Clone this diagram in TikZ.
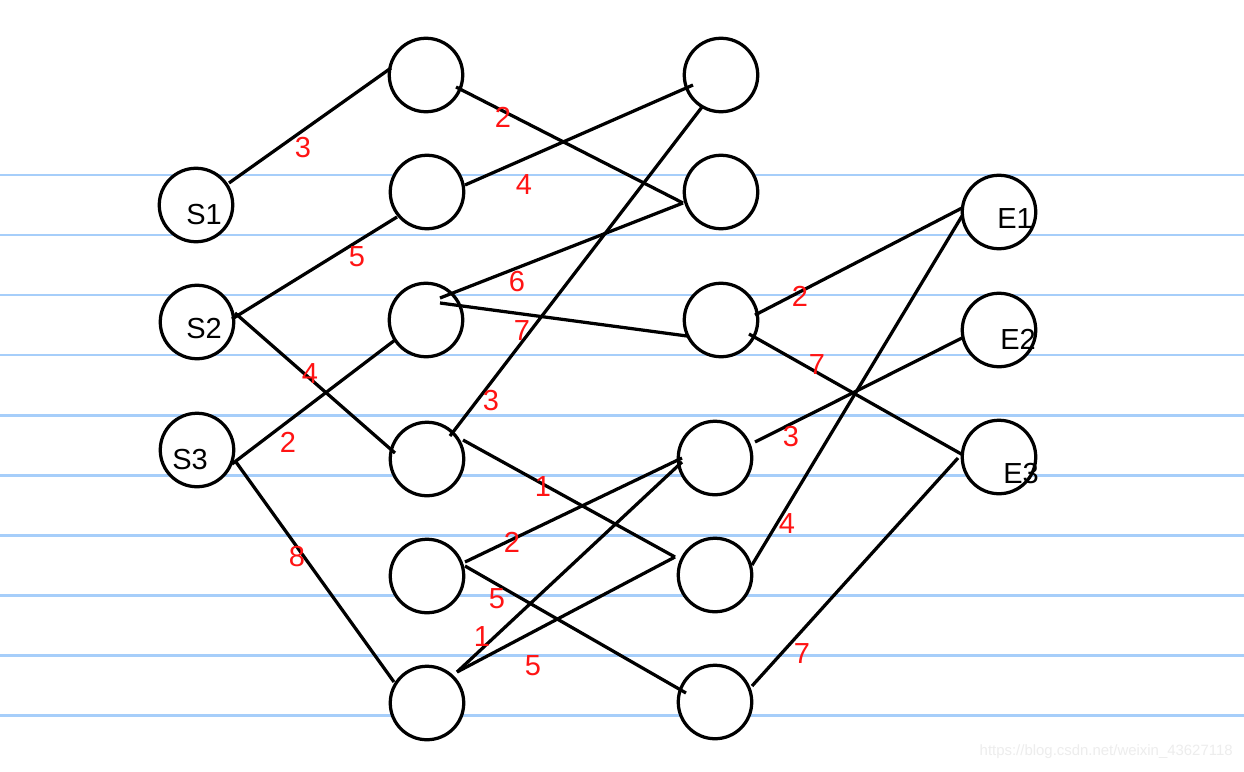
\documentclass[tikz,border=0pt]{standalone}
\usepackage{fontspec}
\setmainfont{Liberation Sans}
\usetikzlibrary{calc}
\definecolor{ruleblue}{RGB}{166,206,250}
\definecolor{wred}{RGB}{255,20,20}
\tikzset{
  rule/.style={draw=ruleblue,line width=1.7pt},
  vtx/.style={circle,draw=black,fill=white,line width=1.85pt,minimum size=1.47cm,inner sep=0pt},
  edge/.style={draw=black,line width=1.85pt},
  wt/.style={text=wred,font=\fontsize{16.5}{17}\selectfont,inner sep=0pt},
  nm/.style={text=black,font=\fontsize{16.5}{17}\selectfont,inner sep=0pt},
  wm/.style={text=black!7,font=\fontsize{8.5}{9}\selectfont,inner sep=0pt}
}
\begin{document}
\begin{tikzpicture}[x=0.02cm,y=-0.02cm]
\useasboundingbox (0,0) rectangle (1244,771);
\fill[white] (0,0) rectangle (1244,771);
% ruled lines
\foreach \yy in {175,235,295,355,415,475,535,595,655,715}
  \draw[rule] (0,\yy) -- (1244,\yy);
% vertices
\node[vtx] (S1) at (196,205) {};
\node[vtx] (S2) at (197,322) {};
\node[vtx] (S3) at (197,450) {};
\node[vtx] (A1) at (426,75) {};
\node[vtx] (A2) at (427,192) {};
\node[vtx] (A3) at (426,320) {};
\node[vtx] (A4) at (427,459) {};
\node[vtx] (A5) at (427,576) {};
\node[vtx] (A6) at (427,703) {};
\node[vtx] (B1) at (721,75) {};
\node[vtx] (B2) at (721,192) {};
\node[vtx] (B3) at (721,320) {};
\node[vtx] (B4) at (715,458) {};
\node[vtx] (B5) at (715,575) {};
\node[vtx] (B6) at (715,702) {};
\node[vtx] (E1) at (999,212) {};
\node[vtx] (E2) at (999,330) {};
\node[vtx] (E3) at (999,457) {};
% names
\node[nm] (tS1) at (204,215) {S1};
\node[nm] (tS2) at (204,329) {S2};
\node[nm] (tS3) at (190,460) {S3};
\node[nm] (tE1) at (1015,219) {E1};
\node[nm] (tE2) at (1018,339) {E2};
\node[nm] (tE3) at (1021,474) {E3};
% edges
\draw[edge] ($(S1)+(33,-22)$) -- ($(A1)+(-35,-7)$);
\draw[edge] ($(A1)+(30,12)$) -- ($(B2)+(-38,11)$);
\draw[edge] ($(A2)+(38,-7)$) -- ($(B1)+(-28,10)$);
\draw[edge] ($(S2)+(35,-3)$) -- ($(A2)+(-30,25)$);
\draw[edge] ($(S2)+(38,-9)$) -- ($(A4)+(-32,-6)$);
\draw[edge] ($(S3)+(35,14)$) -- ($(A3)+(-31,20)$);
\draw[edge] ($(S3)+(39,12)$) -- ($(A6)+(-33,-21)$);
\draw[edge] ($(A3)+(14,-22)$) -- ($(B2)+(-38,11)$);
\draw[edge] ($(A3)+(14,-17)$) -- ($(B3)+(-34,16)$);
\draw[edge] ($(A4)+(23,-23)$) -- ($(B1)+(-19,32)$);
\draw[edge] ($(A4)+(36,-19)$) -- ($(B5)+(-40,-18)$);
\draw[edge] ($(A5)+(38,-14)$) -- ($(B4)+(-33,0)$);
\draw[edge] ($(A6)+(30,-31)$) -- ($(B4)+(-33,4)$);
\draw[edge] ($(A5)+(38,-10)$) -- ($(B6)+(-29,-9)$);
\draw[edge] ($(A6)+(30,-31)$) -- ($(B5)+(-40,-18)$);
\draw[edge] ($(B3)+(34,-5)$) -- ($(E1)+(-37,-4)$);
\draw[edge] ($(B3)+(28,14)$) -- ($(E3)+(-36,-2)$);
\draw[edge] ($(B4)+(40,-16)$) -- ($(E2)+(-37,8)$);
\draw[edge] ($(B5)+(37,-10)$) -- ($(E1)+(-37,4)$);
\draw[edge] ($(B6)+(37,-16)$) -- ($(E3)+(-41,1)$);
% weights
\node[wt] (w1) at (303,148) {3};
\node[wt] (w2) at (503,117) {2};
\node[wt] (w3) at (524,185) {4};
\node[wt] (w4) at (357,257) {5};
\node[wt] (w5) at (517,282) {6};
\node[wt] (w6) at (522,331) {7};
\node[wt] (w7) at (310,374) {4};
\node[wt] (w8) at (491,401) {3};
\node[wt] (w9) at (288,442) {2};
\node[wt] (w10) at (543,487) {1};
\node[wt] (w11) at (512,542) {2};
\node[wt] (w12) at (297,557) {8};
\node[wt] (w13) at (497,599) {5};
\node[wt] (w14) at (482,637) {1};
\node[wt] (w15) at (533,666) {5};
\node[wt] (w16) at (800,296) {2};
\node[wt] (w17) at (817,365) {7};
\node[wt] (w18) at (791,437) {3};
\node[wt] (w19) at (787,524) {4};
\node[wt] (w20) at (802,654) {7};
% watermark
\node[wm,anchor=east] (wmk) at (1233,752) {https://blog.csdn.net/weixin\_43627118};
\end{tikzpicture}
\end{document}
